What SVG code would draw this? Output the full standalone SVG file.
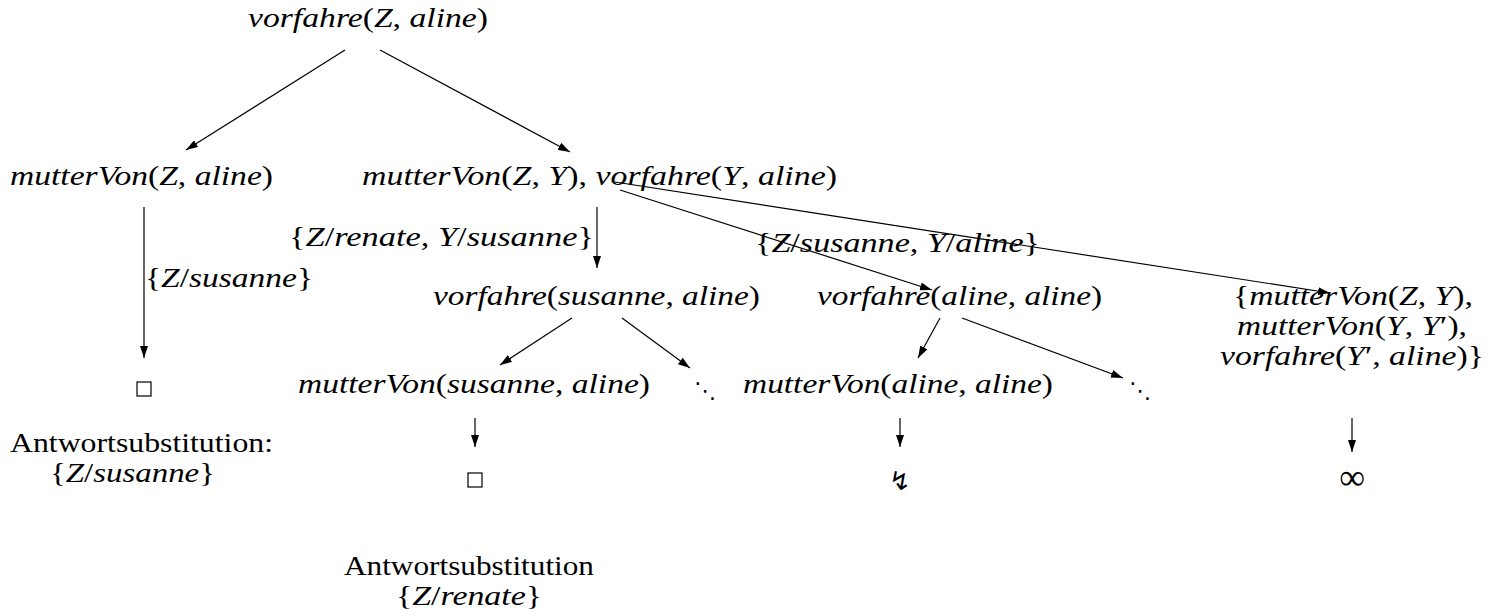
<svg xmlns="http://www.w3.org/2000/svg" width="1499" height="616" viewBox="0 0 1499 616">
  <style>
    .m { font-family: "Liberation Serif", "DejaVu Serif", serif; font-size: 28px; font-style: italic; fill: #000; }
    .r { font-style: normal; }
    .rm { font-family: "Liberation Serif", "DejaVu Serif", serif; font-size: 28px; fill: #000; }
    .sym { font-family: "DejaVu Sans", sans-serif; fill: #000; }
    .box { fill: none; stroke: #000; stroke-width: 1.2; }
    .edge { stroke: #000; stroke-width: 1.2; fill: none; marker-end: url(#ah); }
  </style>
  <defs>
    <marker id="ah" viewBox="0 0 12 8" refX="12" refY="4" markerWidth="12" markerHeight="8" markerUnits="userSpaceOnUse" orient="auto">
      <path d="M0,0 L12,4 L0,8 z" fill="#000"/>
    </marker>
  </defs>

  <!-- connectors -->
  <g id="connectors">
    <line class="edge" x1="345" y1="50" x2="186" y2="150"/>
    <line class="edge" x1="380" y1="50" x2="570" y2="152"/>
    <line class="edge" x1="144" y1="207" x2="144" y2="358"/>
    <line class="edge" x1="597" y1="207" x2="597" y2="268"/>
    <line class="edge" x1="620" y1="190" x2="932" y2="290"/>
    <line class="edge" x1="615" y1="182" x2="1330" y2="293"/>
    <line class="edge" x1="572" y1="318" x2="500" y2="365"/>
    <line class="edge" x1="622" y1="318" x2="690" y2="368"/>
    <line class="edge" x1="940" y1="318" x2="918" y2="358"/>
    <line class="edge" x1="962" y1="318" x2="1123" y2="378"/>
    <line class="edge" x1="475" y1="418" x2="475" y2="447"/>
    <line class="edge" x1="900" y1="418" x2="900" y2="447"/>
    <line class="edge" x1="1352" y1="418" x2="1352" y2="452"/>
  </g>

  <!-- edge labels -->
  <g id="labels">
    <text class="m" x="145" y="287" textLength="168" lengthAdjust="spacingAndGlyphs"><tspan class="r">{</tspan>Z<tspan class="r">/</tspan>susanne<tspan class="r">}</tspan></text>
    <text class="m" x="289" y="246" textLength="305" lengthAdjust="spacingAndGlyphs"><tspan class="r">{</tspan>Z<tspan class="r">/</tspan>renate<tspan class="r">, </tspan>Y<tspan class="r">/</tspan>susanne<tspan class="r">}</tspan></text>
    <text class="m" x="755" y="252" textLength="285" lengthAdjust="spacingAndGlyphs"><tspan class="r">{</tspan>Z<tspan class="r">/</tspan>susanne<tspan class="r">, </tspan>Y<tspan class="r">/</tspan>aline<tspan class="r">}</tspan></text>
  </g>

  <g id="root">
    <text class="m" x="248" y="27" textLength="240" lengthAdjust="spacingAndGlyphs">vorfahre<tspan class="r">(</tspan>Z<tspan class="r">, </tspan>aline<tspan class="r">)</tspan></text>
  </g>
  <g id="goal-left">
    <text class="m" x="10" y="185" textLength="263" lengthAdjust="spacingAndGlyphs">mutterVon<tspan class="r">(</tspan>Z<tspan class="r">, </tspan>aline<tspan class="r">)</tspan></text>
  </g>
  <g id="goal-right">
    <text class="m" x="362" y="185" textLength="475" lengthAdjust="spacingAndGlyphs">mutterVon<tspan class="r">(</tspan>Z<tspan class="r">, </tspan>Y<tspan class="r">), </tspan>vorfahre<tspan class="r">(</tspan>Y<tspan class="r">, </tspan>aline<tspan class="r">)</tspan></text>
  </g>
  <g id="goal-susanne">
    <text class="m" x="433" y="305" textLength="327" lengthAdjust="spacingAndGlyphs">vorfahre<tspan class="r">(</tspan>susanne<tspan class="r">, </tspan>aline<tspan class="r">)</tspan></text>
  </g>
  <g id="goal-aline">
    <text class="m" x="817" y="305" textLength="285" lengthAdjust="spacingAndGlyphs">vorfahre<tspan class="r">(</tspan>aline<tspan class="r">, </tspan>aline<tspan class="r">)</tspan></text>
  </g>
  <g id="goal-loop">
    <text class="m" x="1233" y="305" textLength="240" lengthAdjust="spacingAndGlyphs"><tspan class="r">{</tspan>mutterVon<tspan class="r">(</tspan>Z<tspan class="r">, </tspan>Y<tspan class="r">),</tspan></text>
    <text class="m" x="1237" y="335" textLength="230" lengthAdjust="spacingAndGlyphs">mutterVon<tspan class="r">(</tspan>Y<tspan class="r">, </tspan>Y<tspan class="r">′),</tspan></text>
    <text class="m" x="1220" y="365" textLength="264" lengthAdjust="spacingAndGlyphs">vorfahre<tspan class="r">(</tspan>Y<tspan class="r">′, </tspan>aline<tspan class="r">)}</tspan></text>
  </g>
  <g id="success-left">
    <rect class="box" x="137" y="382" width="14" height="14"/>
  </g>
  <g id="goal-mv-susanne">
    <text class="m" x="298" y="393" textLength="352" lengthAdjust="spacingAndGlyphs">mutterVon<tspan class="r">(</tspan>susanne<tspan class="r">, </tspan>aline<tspan class="r">)</tspan></text>
  </g>
  <g id="more-1">
    <text class="sym" x="705" y="398" font-size="22" text-anchor="middle">⋱</text>
  </g>
  <g id="goal-mv-aline">
    <text class="m" x="743" y="393" textLength="310" lengthAdjust="spacingAndGlyphs">mutterVon<tspan class="r">(</tspan>aline<tspan class="r">, </tspan>aline<tspan class="r">)</tspan></text>
  </g>
  <g id="more-2">
    <text class="sym" x="1140" y="398" font-size="22" text-anchor="middle">⋱</text>
  </g>
  <g id="answer-left">
    <text class="rm" x="10" y="452" textLength="263" lengthAdjust="spacingAndGlyphs">Antwortsubstitution:</text>
    <text class="m" x="50" y="482" textLength="165" lengthAdjust="spacingAndGlyphs"><tspan class="r">{</tspan>Z<tspan class="r">/</tspan>susanne<tspan class="r">}</tspan></text>
  </g>
  <g id="success-mid">
    <rect class="box" x="468" y="473" width="14" height="14"/>
  </g>
  <g id="fail">
    <text class="sym" x="900" y="490" font-size="26" text-anchor="middle">↯</text>
  </g>
  <g id="infinite">
    <text x="1352" y="489" font-family="Liberation Serif, serif" font-size="36" text-anchor="middle">∞</text>
  </g>
  <g id="answer-mid">
    <text class="rm" x="344" y="575" textLength="250" lengthAdjust="spacingAndGlyphs">Antwortsubstitution</text>
    <text class="m" x="396" y="605" textLength="146" lengthAdjust="spacingAndGlyphs"><tspan class="r">{</tspan>Z<tspan class="r">/</tspan>renate<tspan class="r">}</tspan></text>
  </g>
</svg>
